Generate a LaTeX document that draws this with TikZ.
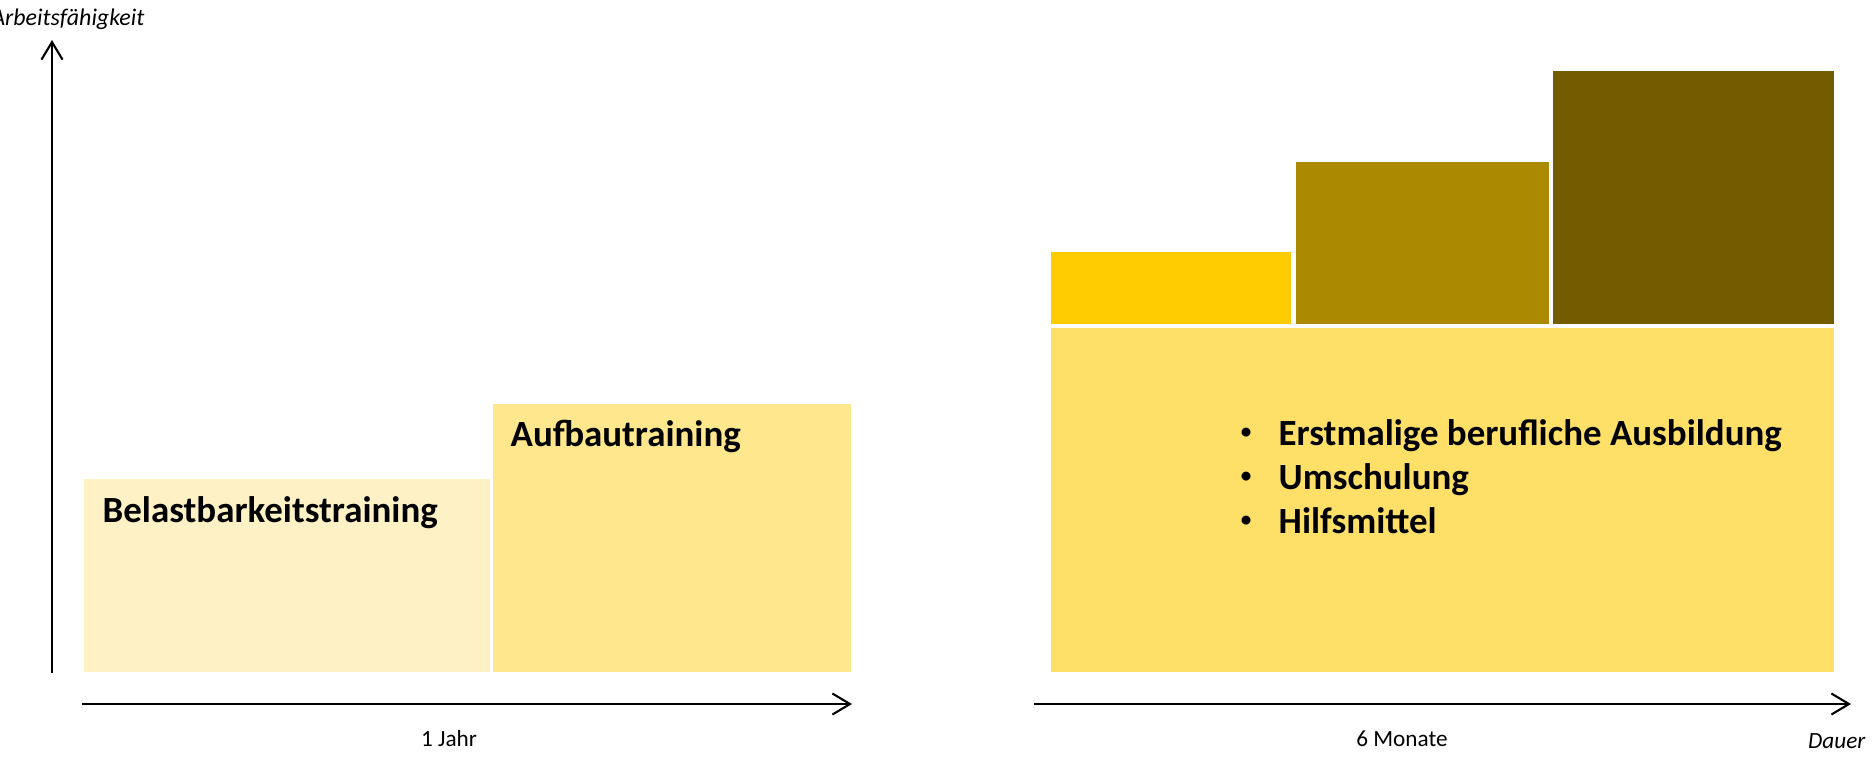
\documentclass[tikz,border=0pt]{standalone}
\usepackage{fontspec}
\setmainfont{Carlito}
\usetikzlibrary{arrows.meta}

\definecolor{paleyellow}{RGB}{254,241,198}
\definecolor{lightyellow}{RGB}{254,231,141}
\definecolor{midyellow}{RGB}{254,223,104}
\definecolor{goldyellow}{RGB}{254,204,0}
\definecolor{ochre}{RGB}{171,137,0}
\definecolor{darkochre}{RGB}{116,91,0}

\begin{document}
\begin{tikzpicture}[
	x=0.01cm, y=-0.01cm,
	axis/.style={line width=0.6pt, -{Straight Barb[length=5pt,width=6pt]}},
	bigtext/.style={inner sep=0pt, font=\fontsize{10.5}{12.5}\selectfont\bfseries},
	dot/.style={inner sep=0pt, font=\fontsize{6}{8}\selectfont\bfseries},
	smalltext/.style={inner sep=0pt, font=\fontsize{6.6}{8}\selectfont}
	]
	\useasboundingbox (0,0) rectangle (1873,757);
	\def\base{672}
	
	% left part
	\fill[paleyellow] (84,479) rectangle (490,\base);
	\fill[lightyellow] (493,404) rectangle (851,\base);
	\node[bigtext, anchor=base west] (belast) at (102,522) {Belastbarkeitstraining};
	\node[bigtext, anchor=base west] (aufbau) at (510,446) {Aufbautraining};
	
	\coordinate (y0) at (52,673);
	\coordinate (y1) at (52,40);
	\draw[axis] (y0) -- (y1);
	\node[smalltext, font=\fontsize{6.8}{8}\selectfont\itshape, anchor=base east] (ylabel) at (145,25) {Arbeitsfähigkeit};
	
	\coordinate (xa0) at (82,704);
	\coordinate (xa1) at (852,704);
	\draw[axis] (xa0) -- (xa1);
	\node[smalltext] (jahr) at (449,739) {1 Jahr};
	
	% right part
	\fill[midyellow] (1051,328) rectangle (1834,\base);
	\fill[goldyellow] (1051,252) rectangle (1291,324);
	\fill[ochre] (1296,162) rectangle (1549,324);
	\fill[darkochre] (1553,71) rectangle (1834,324);
	
	\node[dot] (b1) at (1246,433) {\textbullet};
	\node[bigtext, anchor=base west] (item1) at (1278,445) {Erstmalige berufliche Ausbildung};
	\node[dot] (b2) at (1246,477) {\textbullet};
	\node[bigtext, anchor=base west] (item2) at (1278,489) {Umschulung};
	\node[dot] (b3) at (1246,521) {\textbullet};
	\node[bigtext, anchor=base west] (item3) at (1278,533) {Hilfsmittel};
	
	\coordinate (xb0) at (1034,704);
	\coordinate (xb1) at (1851,704);
	\draw[axis] (xb0) -- (xb1);
	\node[smalltext] (monate) at (1402,739) {6 Monate};
	\node[smalltext, font=\fontsize{6.6}{8}\selectfont\itshape, anchor=base east] (dauer) at (1866,748) {Dauer};
\end{tikzpicture}
\end{document}
